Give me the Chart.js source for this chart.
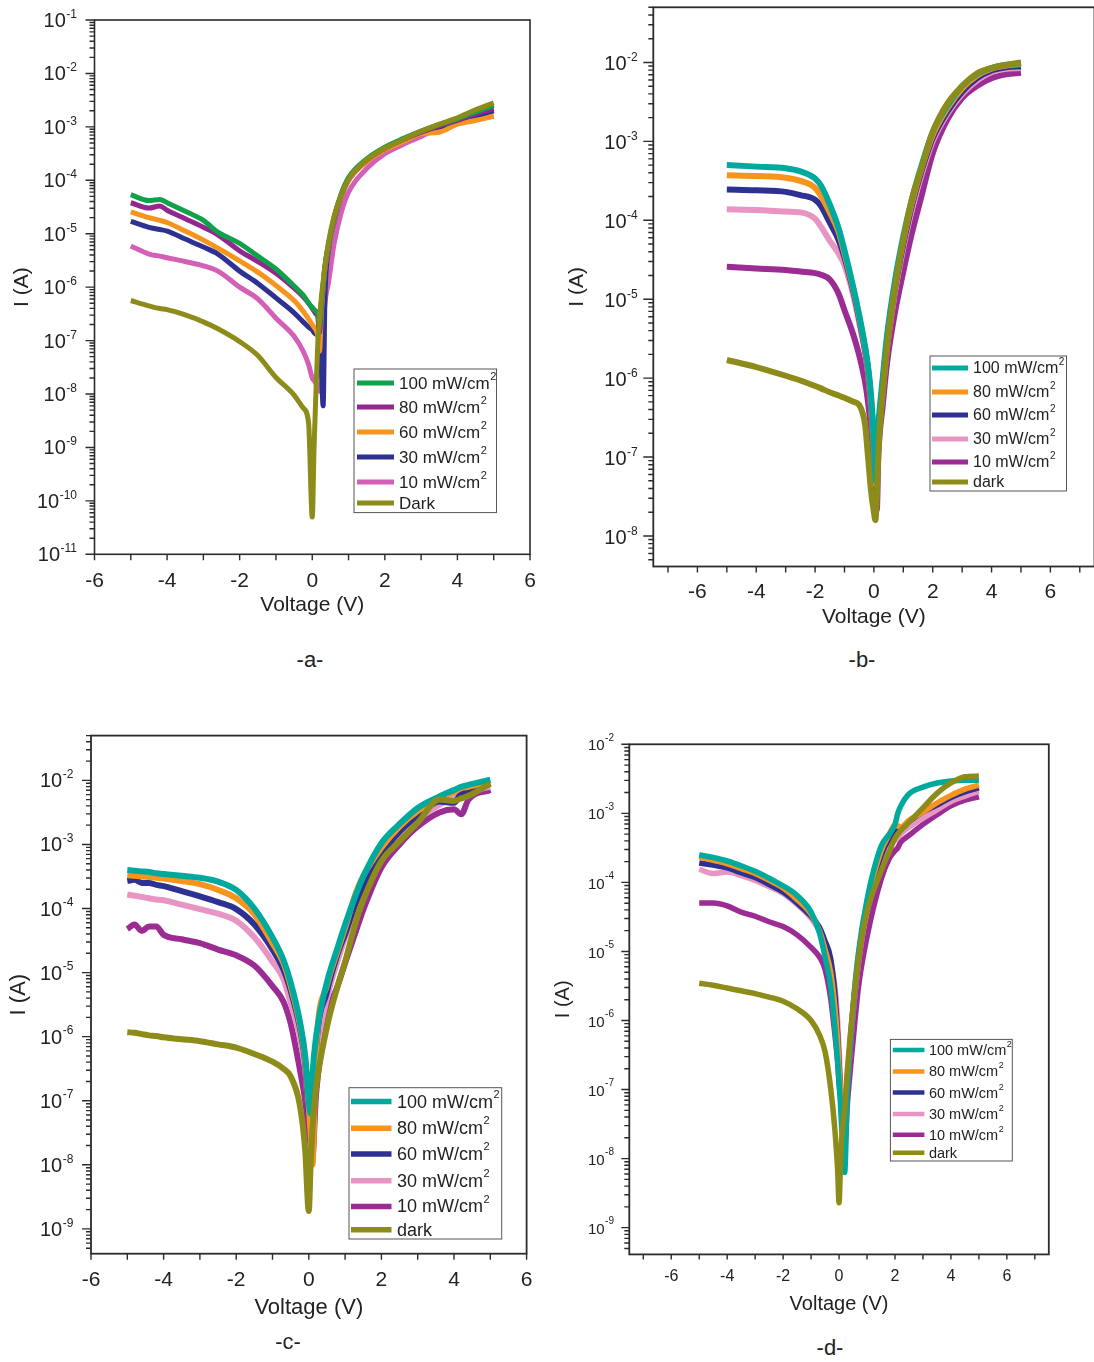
<!DOCTYPE html>
<html>
<head>
<meta charset="UTF-8">
<title>I-V curves under illumination</title>
<script src="https://cdn.jsdelivr.net/npm/chart.js@4.4.1/dist/chart.umd.min.js"></script>
<style>
html, body { margin: 0; padding: 0; background: #fff; overflow: hidden; }
body { position: relative; width: 1094px; height: 1362px; font-family: "Liberation Sans", Arial, sans-serif; }
canvas { position: absolute; }
.tag { position: absolute; font-size: 22px; color: #222; transform: translateX(-50%); }
</style>
</head>
<body>
<canvas id="chartA" width="545" height="625" style="left:0;top:0"></canvas>
<canvas id="chartB" width="540" height="640" style="left:560px;top:0"></canvas>
<canvas id="chartC" width="545" height="610" style="left:0;top:720px"></canvas>
<canvas id="chartD" width="549" height="610" style="left:545px;top:720px"></canvas>
<div class="tag" style="left:310px;top:647px">-a-</div>
<div class="tag" style="left:862px;top:647px">-b-</div>
<div class="tag" style="left:288px;top:1329px">-c-</div>
<div class="tag" style="left:830px;top:1335px">-d-</div>
<script>
// all currents as log10(I / A)

// panel a
const voltA = [-5, -4.5, -4.2, -4, -3.5, -3, -2.6, -2, -1.5, -1, -0.5, -0.25, -0.1, 0, 0.05, 0.1, 0.15, 0.2, 0.25, 0.3, 0.35, 0.45, 0.6, 0.8, 1, 1.5, 2, 2.5, 3, 3.5, 4, 4.5, 5];
const aLog100 = [-4.27, -4.38, -4.36, -4.42, -4.58, -4.75, -4.97, -5.18, -5.42, -5.66, -5.98, -6.15, -6.3, -6.38, -6.42, -6.45, -6.5, -6.7, -6.3, -5.95, -5.6, -5.2, -4.7, -4.25, -3.95, -3.6, -3.38, -3.22, -3.08, -2.96, -2.85, -2.72, -2.6];
const aLog80 = [-4.42, -4.52, -4.48, -4.56, -4.72, -4.88, -5.02, -5.32, -5.52, -5.74, -6.02, -6.18, -6.3, -6.4, -6.45, -6.5, -6.55, -6.85, -6.35, -5.98, -5.62, -5.22, -4.72, -4.27, -3.97, -3.62, -3.4, -3.24, -3.1, -2.98, -2.88, -2.76, -2.66];
const aLog60 = [-4.59, -4.7, -4.75, -4.79, -4.95, -5.12, -5.27, -5.51, -5.72, -5.97, -6.25, -6.45, -6.6, -6.7, -6.75, -6.8, -6.9, -7.2, -6.5, -6.02, -5.65, -5.25, -4.75, -4.3, -4.0, -3.65, -3.43, -3.28, -3.13, -3.1, -2.95, -2.88, -2.8];
const aLog30 = [-4.77, -4.88, -4.92, -4.95, -5.1, -5.25, -5.38, -5.7, -5.93, -6.2, -6.48, -6.65, -6.75, -6.8, -6.85, -6.88, -6.9, -7.0, -7.5, -8.22, -6.2, -5.3, -4.78, -4.3, -4.0, -3.64, -3.42, -3.26, -3.12, -3.0, -2.92, -2.8, -2.7];
const aLog10 = [-5.23, -5.38, -5.42, -5.45, -5.52, -5.6, -5.7, -6.0, -6.22, -6.58, -6.92, -7.2, -7.45, -7.7, -7.75, -7.8, -7.85, -7.95, -7.9, -6.8, -6.3, -5.9, -5.2, -4.6, -4.22, -3.78, -3.5, -3.33, -3.18, -3.02, -2.92, -2.86, -2.8];
const aLogDark = [-6.25, -6.35, -6.4, -6.42, -6.52, -6.65, -6.78, -7.02, -7.28, -7.69, -8.02, -8.26, -8.55, -10.3, -9.0, -8.0, -7.1, -6.6, -6.2, -5.9, -5.6, -5.15, -4.68, -4.28, -3.98, -3.62, -3.4, -3.24, -3.08, -2.95, -2.83, -2.68, -2.55];

// panel b
const voltB = [-5, -4, -3, -2.5, -2, -1.8, -1.5, -1.2, -1, -0.7, -0.5, -0.3, -0.2, -0.1, 0, 0.05, 0.1, 0.15, 0.3, 0.45, 0.7, 1, 1.3, 1.6, 2, 2.5, 3, 3.5, 4, 4.5, 5];
const bLog100 = [-3.3, -3.32, -3.34, -3.38, -3.47, -3.56, -3.8, -4.1, -4.38, -4.85, -5.2, -5.6, -5.85, -6.2, -6.8, -7.3, -6.9, -6.6, -6.0, -5.45, -4.8, -4.2, -3.72, -3.33, -2.88, -2.55, -2.3, -2.15, -2.07, -2.03, -2.01];
const bLog80 = [-3.43, -3.44, -3.46, -3.5, -3.59, -3.69, -3.9, -4.15, -4.42, -4.87, -5.22, -5.62, -5.88, -6.25, -6.85, -7.35, -6.95, -6.65, -6.05, -5.5, -4.85, -4.25, -3.76, -3.36, -2.92, -2.58, -2.33, -2.17, -2.08, -2.04, -2.02];
const bLog60 = [-3.61, -3.62, -3.64, -3.68, -3.74, -3.82, -4.03, -4.25, -4.47, -4.9, -5.25, -5.65, -5.9, -6.3, -6.9, -7.4, -7.0, -6.7, -6.1, -5.55, -4.9, -4.3, -3.8, -3.4, -2.96, -2.62, -2.37, -2.2, -2.1, -2.06, -2.05];
const bLog30 = [-3.86, -3.87, -3.89, -3.9, -3.98, -4.08, -4.26, -4.42, -4.57, -4.95, -5.3, -5.68, -5.93, -6.35, -6.95, -7.45, -7.05, -6.75, -6.15, -5.6, -4.95, -4.35, -3.85, -3.45, -3.0, -2.65, -2.4, -2.23, -2.12, -2.08, -2.07];
const bLog10 = [-4.59, -4.61, -4.63, -4.65, -4.67, -4.69, -4.75, -4.93, -5.14, -5.45, -5.71, -6.05, -6.3, -6.64, -7.1, -7.4, -7.67, -7.0, -6.35, -5.8, -5.2, -4.65, -4.15, -3.72, -3.15, -2.72, -2.45, -2.3, -2.2, -2.15, -2.13];
const bLogDark = [-5.77, -5.86, -5.97, -6.03, -6.1, -6.13, -6.18, -6.22, -6.25, -6.3, -6.34, -6.59, -7.0, -7.42, -7.7, -7.8, -7.5, -6.95, -6.18, -5.6, -4.9, -4.25, -3.72, -3.36, -2.88, -2.52, -2.3, -2.14, -2.07, -2.03, -2.0];

// panel c
const voltC = [-5, -4.8, -4.6, -4.4, -4.2, -4, -3.5, -3, -2.5, -2, -1.5, -1, -0.7, -0.5, -0.25, -0.1, 0, 0.05, 0.1, 0.2, 0.5, 0.8, 1, 1.3, 1.5, 2, 2.5, 3, 3.6, 4, 4.2, 4.4, 5];
const cLog100 = [-3.4, -3.41, -3.42, -3.43, -3.45, -3.46, -3.49, -3.52, -3.58, -3.71, -4.0, -4.45, -4.8, -5.15, -5.75, -6.3, -7.0, -7.2, -6.6, -6.0, -5.15, -4.6, -4.25, -3.78, -3.5, -2.98, -2.68, -2.43, -2.25, -2.15, -2.1, -2.07, -1.99];
const cLog80 = [-3.48, -3.49, -3.5, -3.51, -3.52, -3.53, -3.57, -3.62, -3.71, -3.84, -4.09, -4.54, -4.85, -5.21, -5.8, -6.35, -7.1, -7.5, -8.0, -6.2, -5.2, -4.65, -4.3, -3.75, -3.49, -3.05, -2.72, -2.48, -2.28, -2.18, -2.12, -2.1, -2.02];
const cLog60 = [-3.57, -3.55, -3.6, -3.6, -3.63, -3.65, -3.73, -3.81, -3.9, -4.01, -4.25, -4.64, -4.95, -5.28, -5.85, -6.4, -7.2, -7.3, -7.5, -6.2, -5.3, -4.7, -4.4, -3.9, -3.65, -3.15, -2.8, -2.55, -2.33, -2.35, -2.2, -2.15, -2.05];
const cLog30 = [-3.78, -3.8, -3.82, -3.84, -3.86, -3.87, -3.94, -4.01, -4.08, -4.19, -4.45, -4.83, -5.1, -5.47, -6.0, -6.5, -7.1, -7.0, -6.9, -6.3, -5.4, -4.8, -4.45, -3.95, -3.7, -3.2, -2.85, -2.6, -2.38, -2.25, -2.2, -2.17, -2.1];
const cLog10 = [-4.32, -4.25, -4.35, -4.28, -4.28, -4.41, -4.48, -4.54, -4.64, -4.73, -4.89, -5.21, -5.45, -5.79, -6.5, -7.0, -7.5, -7.7, -7.85, -6.9, -5.7, -5.2, -4.85, -4.35, -4.02, -3.36, -3.0, -2.72, -2.5, -2.45, -2.53, -2.3, -2.15];
const cLogDark = [-5.93, -5.94, -5.96, -5.98, -5.99, -6.01, -6.04, -6.07, -6.12, -6.17, -6.27, -6.39, -6.5, -6.62, -7.06, -7.77, -8.72, -8.0, -7.45, -6.81, -5.85, -5.2, -4.83, -4.2, -3.87, -3.26, -2.95, -2.66, -2.3, -2.32, -2.28, -2.24, -2.05];

// panel d
const voltD = [-5, -4.5, -4, -3.5, -3, -2.5, -2, -1.5, -1, -0.7, -0.5, -0.3, -0.15, -0.05, 0, 0.05, 0.1, 0.2, 0.3, 0.5, 0.7, 1, 1.5, 1.8, 2, 2.1, 2.2, 2.5, 3, 3.5, 4, 4.5, 5];
const dLog100 = [-3.6, -3.64, -3.69, -3.76, -3.84, -3.94, -4.05, -4.19, -4.43, -4.73, -5.08, -5.5, -6.1, -6.6, -6.9, -7.2, -7.6, -8.2, -7.0, -5.8, -5.0, -4.25, -3.48, -3.3, -3.16, -3.0, -2.9, -2.72, -2.62, -2.56, -2.53, -2.52, -2.52];
const dLog80 = [-3.63, -3.68, -3.73, -3.8, -3.87, -3.97, -4.08, -4.25, -4.46, -4.7, -4.97, -5.3, -5.8, -6.3, -6.7, -7.0, -7.3, -7.4, -6.8, -5.8, -5.05, -4.3, -3.55, -3.3, -3.16, -3.18, -3.2, -3.1, -2.98, -2.85, -2.74, -2.65, -2.59];
const dLog60 = [-3.72, -3.75, -3.79, -3.86, -3.93, -4.03, -4.14, -4.3, -4.49, -4.65, -4.85, -5.1, -5.6, -6.2, -6.6, -7.0, -7.4, -7.5, -6.9, -5.85, -5.1, -4.35, -3.62, -3.36, -3.28, -3.25, -3.22, -3.12, -2.98, -2.88, -2.77, -2.69, -2.63];
const dLog30 = [-3.81, -3.87, -3.85, -3.9, -3.97, -4.06, -4.16, -4.32, -4.52, -4.72, -5.02, -5.2, -5.5, -6.0, -6.4, -6.9, -7.2, -7.3, -6.9, -5.9, -5.15, -4.4, -3.7, -3.45, -3.39, -3.35, -3.3, -3.2, -3.07, -2.95, -2.83, -2.75, -2.68];
const dLog10 = [-4.3, -4.3, -4.34, -4.43, -4.49, -4.57, -4.64, -4.76, -4.94, -5.08, -5.26, -5.68, -6.2, -6.6, -6.9, -7.1, -7.28, -7.81, -7.2, -6.3, -5.5, -4.79, -3.96, -3.65, -3.54, -3.5, -3.42, -3.32, -3.16, -3.02, -2.89, -2.81, -2.76];
const dLogDark = [-5.46, -5.49, -5.53, -5.57, -5.61, -5.66, -5.72, -5.83, -6.0, -6.21, -6.45, -6.98, -7.58, -8.17, -8.64, -8.1, -7.69, -7.28, -6.7, -5.8, -5.1, -4.43, -3.84, -3.55, -3.36, -3.3, -3.25, -3.13, -2.92, -2.71, -2.56, -2.47, -2.46];

const lightLabels = ['100 mW/cm²', '80 mW/cm²', '60 mW/cm²', '30 mW/cm²', '10 mW/cm²'];
const colorsA = ['#12a14b', '#93278f', '#f7941d', '#2e3192', '#d35fb7', '#8d8c1a'];
const colorsBCD = ['#00a99d', '#f7941d', '#2e3192', '#e895c4', '#9b2c93', '#8d8c1a'];

const FONT = '"Liberation Sans", Arial, sans-serif';

function logTicks(min, max) {
  const out = [];
  for (let e = Math.floor(Math.log10(min)); e <= Math.ceil(Math.log10(max)); e++) {
    for (let m = 1; m < 10; m++) {
      const v = m * Math.pow(10, e);
      if (v >= min * 0.999 && v <= max * 1.001) out.push({ value: v, major: m === 1 });
    }
  }
  return out;
}

function intTicks(min, max) {
  const out = [];
  for (let v = Math.ceil(min); v <= Math.floor(max); v++) out.push({ value: v });
  return out;
}

// frame, tick marks, 10^n labels and the boxed legend
const panelPlugin = {
  id: 'panel',
  afterDraw(chart, args, o) {
    const { ctx, chartArea: a } = chart;
    const xs = chart.scales.x, ys = chart.scales.y;
    ctx.save();
    ctx.strokeStyle = '#2b2b2b';
    ctx.lineWidth = o.frameWidth;
    ctx.strokeRect(a.left, a.top, a.right - a.left, a.bottom - a.top);

    ctx.lineWidth = 1.4;
    ctx.beginPath();
    ys.ticks.forEach(t => {
      const py = ys.getPixelForValue(t.value);
      const len = t.major ? o.majorTick : o.minorTick;
      ctx.moveTo(a.left - len, py);
      ctx.lineTo(a.left, py);
    });
    xs.ticks.forEach(t => {
      const px = xs.getPixelForValue(t.value);
      ctx.moveTo(px, a.bottom);
      ctx.lineTo(px, a.bottom + o.xTick);
    });
    ctx.stroke();

    ctx.fillStyle = '#222';
    ctx.textAlign = 'right';
    const right = a.left - o.labelGap;
    ys.ticks.filter(t => t.major).forEach(t => {
      const py = ys.getPixelForValue(t.value);
      const exp = String(Math.round(Math.log10(t.value)));
      ctx.font = o.expSize + 'px ' + FONT;
      const ew = ctx.measureText(exp).width;
      ctx.textBaseline = 'alphabetic';
      ctx.fillText(exp, right, py + o.expDy);
      ctx.font = o.baseSize + 'px ' + FONT;
      ctx.textBaseline = 'middle';
      ctx.fillText('10', right - ew - 0.5, py + o.baseDy);
    });

    const lg = o.legend;
    ctx.strokeStyle = '#555';
    ctx.lineWidth = 1;
    ctx.strokeRect(lg.box[0], lg.box[1], lg.box[2] - lg.box[0], lg.box[3] - lg.box[1]);
    chart.data.datasets.forEach((ds, i) => {
      const y = lg.rows[i];
      ctx.strokeStyle = ds.borderColor;
      ctx.lineWidth = lg.lineWidth;
      ctx.beginPath();
      ctx.moveTo(lg.x0, y);
      ctx.lineTo(lg.x1, y);
      ctx.stroke();
      let text = ds.label;
      const sup = text.endsWith('²');
      if (sup) text = text.slice(0, -1);
      ctx.fillStyle = '#222';
      ctx.textAlign = 'left';
      ctx.textBaseline = 'middle';
      ctx.font = lg.size + 'px ' + FONT;
      ctx.fillText(text, lg.tx, y + 1);
      if (sup) {
        const w = ctx.measureText(text).width;
        ctx.font = Math.round(lg.size * 0.62) + 'px ' + FONT;
        ctx.fillText('2', lg.tx + w + 0.5, y - lg.size * 0.38);
      }
    });
    ctx.restore();
  }
};

function buildChart(id, p) {
  const n = p.series.length;
  const datasets = p.series.map((logs, i) => ({
    label: p.labels[i],
    data: p.volts.map((v, k) => ({ x: v, y: Math.pow(10, logs[k]) })),
    borderColor: p.colors[i],
    backgroundColor: p.colors[i],
    borderWidth: p.lineWidth,
    borderJoinStyle: 'round',
    pointRadius: 0,
    fill: false,
    cubicInterpolationMode: 'monotone',
    order: i === n - 1 ? 0 : i + 1
  }));
  return new Chart(document.getElementById(id), {
    type: 'line',
    data: { datasets },
    options: {
      responsive: false,
      animation: false,
      events: [],
      layout: { padding: p.padding },
      plugins: { legend: { display: false }, tooltip: { enabled: false }, panel: p.deco },
      scales: {
        x: {
          type: 'linear', min: p.xMin, max: p.xMax, bounds: 'data',
          afterBuildTicks: s => { s.ticks = intTicks(p.xMin, p.xMax); },
          afterFit: s => { s.height = p.xAxisH; s.paddingLeft = 0; s.paddingRight = 0; },
          grid: { display: false, drawTicks: false },
          border: { display: false },
          ticks: {
            autoSkip: false, maxRotation: 0, padding: p.xTickPad, color: '#222',
            font: { family: FONT, size: p.tickSize },
            callback: v => (v % 2 === 0 ? String(v) : '')
          },
          title: { display: true, text: 'Voltage (V)', color: '#222', font: { family: FONT, size: p.titleSize }, padding: { top: 0, bottom: p.xTitlePad } }
        },
        y: {
          type: 'logarithmic', min: p.yMin, max: p.yMax, bounds: 'data',
          afterBuildTicks: s => { s.ticks = logTicks(p.yMin, p.yMax); },
          afterFit: s => { s.width = p.yAxisW; s.paddingTop = 0; s.paddingBottom = 0; },
          grid: { display: false, drawTicks: false },
          border: { display: false },
          ticks: { display: false },
          title: { display: true, text: 'I (A)', color: '#222', font: { family: FONT, size: p.titleSize }, padding: { top: p.yTitlePad, bottom: 0 } }
        }
      }
    },
    plugins: [panelPlugin]
  });
}

buildChart('chartA', {
  volts: voltA,
  series: [aLog100, aLog80, aLog60, aLog30, aLog10, aLogDark],
  labels: [...lightLabels, 'Dark'],
  colors: colorsA,
  lineWidth: 5,
  xMin: -6, xMax: 6, yMin: 1e-11, yMax: 1e-1,
  padding: { left: 0, top: 20, right: 15, bottom: 0 },
  yAxisW: 94.5, xAxisH: 70.7, xTickPad: 14, xTitlePad: 7, yTitlePad: 10,
  tickSize: 21, titleSize: 21,
  deco: {
    frameWidth: 1.6, majorTick: 9, minorTick: 5, xTick: 6,
    labelGap: 17.5, baseSize: 20, expSize: 12, baseDy: 1.5, expDy: -2,
    legend: { box: [354, 369, 496.5, 512.6], rows: [383, 407, 432, 457, 482, 503], x0: 357, x1: 394, tx: 399, size: 17, lineWidth: 5 }
  }
});

buildChart('chartB', {
  volts: voltB,
  series: [bLog100, bLog80, bLog60, bLog30, bLog10, bLogDark],
  labels: [...lightLabels, 'dark'],
  colors: colorsBCD,
  lineWidth: 6,
  xMin: -7.5, xMax: 7.5, yMin: 4.1e-9, yMax: 5e-2,
  padding: { left: 0, top: 7.3, right: 5.5, bottom: 0 },
  yAxisW: 93.3, xAxisH: 73.5, xTickPad: 13, xTitlePad: 10, yTitlePad: 5,
  tickSize: 21, titleSize: 21,
  deco: {
    frameWidth: 1.8, majorTick: 10, minorTick: 5, xTick: 6,
    labelGap: 15.6, baseSize: 20, expSize: 12, baseDy: 2.5, expDy: -1,
    legend: { box: [370, 356, 506.5, 491], rows: [368, 392, 415, 439, 462, 482], x0: 372, x1: 408, tx: 413, size: 16, lineWidth: 5 }
  }
});

buildChart('chartC', {
  volts: voltC,
  series: [cLog100, cLog80, cLog60, cLog30, cLog10, cLogDark],
  labels: [...lightLabels, 'dark'],
  colors: colorsBCD,
  lineWidth: 6,
  xMin: -6, xMax: 6, yMin: 4.1e-10, yMax: 5e-2,
  padding: { left: 0, top: 15.6, right: 18.4, bottom: 0 },
  yAxisW: 91, xAxisH: 76.3, xTickPad: 14, xTitlePad: 9, yTitlePad: 6,
  tickSize: 21, titleSize: 22,
  deco: {
    frameWidth: 1.8, majorTick: 9, minorTick: 5, xTick: 6,
    labelGap: 17.7, baseSize: 20, expSize: 12, baseDy: 1.5, expDy: -2.3,
    legend: { box: [349, 367.7, 501.7, 519], rows: [381.6, 408.3, 434, 460.7, 486.5, 509.8], x0: 351, x1: 391.5, tx: 397, size: 18, lineWidth: 5.5 }
  }
});

buildChart('chartD', {
  volts: voltD,
  series: [dLog100, dLog80, dLog60, dLog30, dLog10, dLogDark],
  labels: [...lightLabels, 'dark'],
  colors: colorsBCD,
  lineWidth: 5.5,
  xMin: -7.5, xMax: 7.5, yMin: 4.1e-10, yMax: 1e-2,
  padding: { left: 0, top: 24.3, right: 45.2, bottom: 0 },
  yAxisW: 84.3, xAxisH: 75.6, xTickPad: 13, xTitlePad: 14, yTitlePad: 6,
  tickSize: 16, titleSize: 20,
  deco: {
    frameWidth: 1.8, majorTick: 8, minorTick: 5, xTick: 5,
    labelGap: 15.3, baseSize: 15, expSize: 10, baseDy: 2, expDy: -3.5,
    legend: { box: [345.4, 319.4, 467.3, 441], rows: [330, 351.4, 372.6, 394, 414.8, 432.8], x0: 347.8, x1: 379.4, tx: 383.9, size: 14.5, lineWidth: 4.5 }
  }
});
</script>
</body>
</html>
